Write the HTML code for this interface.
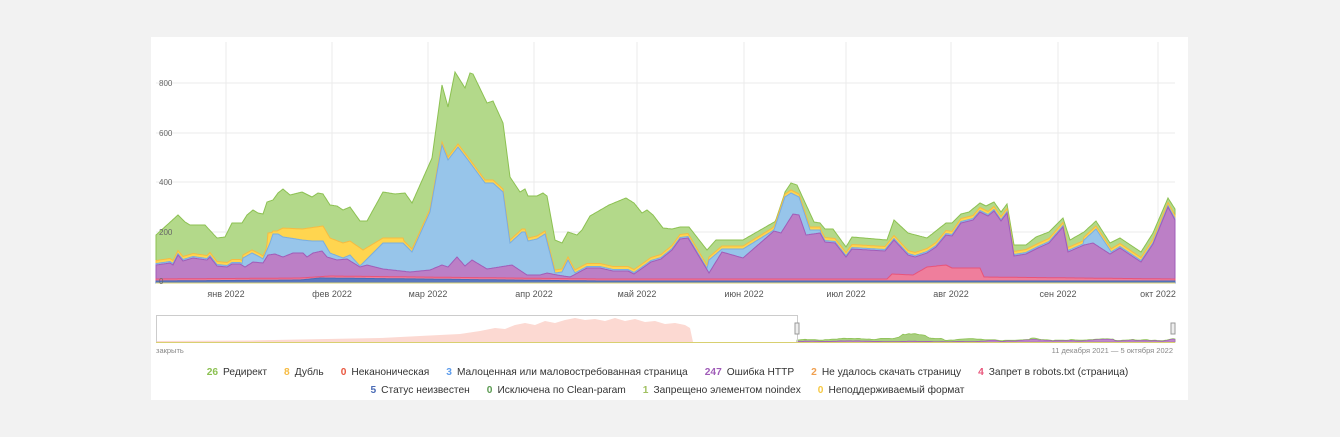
<!DOCTYPE html>
<html><head><meta charset="utf-8"><style>
body{margin:0;background:#f2f2f2;width:1340px;height:437px;overflow:hidden;font-family:"Liberation Sans",sans-serif}
#card{position:absolute;left:151px;top:37px;width:1037px;height:363px;background:#fff}
svg{position:absolute;left:0;top:0}
.leg{position:absolute;left:149px;width:1037px;text-align:center;font-size:10.2px;color:#333;white-space:nowrap}
.leg span{margin:0 8.5px}
.leg b{font-weight:bold;margin-right:5px}
</style></head><body>
<div id="card"></div>
<svg id="s" width="1340" height="437"></svg>
<div class="leg" style="top:367px"><span><b style="color:#8cc152">26</b>Редирект</span><span><b style="color:#f6bb42">8</b>Дубль</span><span><b style="color:#e9573f">0</b>Неканоническая</span><span><b style="color:#5d9cec">3</b>Малоценная или маловостребованная страница</span><span><b style="color:#a05cb8">247</b>Ошибка HTTP</span><span><b style="color:#f0a050">2</b>Не удалось скачать страницу</span><span><b style="color:#e8547a">4</b>Запрет в robots.txt (страница)</span></div>
<div class="leg" style="top:385px"><span><b style="color:#4a6bb5">5</b>Статус неизвестен</span><span><b style="color:#5a9a50">0</b>Исключена по Clean-param</span><span><b style="color:#a0c060">1</b>Запрещено элементом noindex</span><span><b style="color:#f6c842">0</b>Неподдерживаемый формат</span></div>
<script>
const G=[[156,235],[178,215],[185,222],[190,225],[205,225],[217,238],[225,237],[232,223],[242,223],[247,215],[253,210],[258,213],[263,214],[267,202],[273,200],[278,193],[283,189],[290,195],[302,192],[312,197],[318,193],[323,194],[330,205],[337,206],[343,210],[350,207],[360,221],[367,221],[383,192],[395,194],[405,193],[412,203],[432,158],[442,85],[448,107],[455,72],[465,88],[470,73],[473,74],[487,103],[493,101],[503,123],[510,177],[520,192],[525,189],[528,196],[537,196],[543,193],[547,196],[555,240],[562,243],[568,232],[577,235],[582,230],[590,216],[609,205],[626,198],[634,203],[642,213],[647,210],[653,215],[663,228],[672,229],[680,227],[689,227],[707,250],[716,240],[743,240],[776,221],[781,223],[785,192],[791,183],[797,185],[814,222],[820,223],[825,229],[833,229],[846,247],[852,237],[887,240],[894,220],[908,233],[927,238],[946,223],[952,223],[961,214],[969,212],[980,203],[986,206],[994,202],[1001,212],[1007,204],[1014,245],[1026,245],[1036,237],[1049,232],[1063,218],[1070,240],[1084,232],[1096,221],[1110,243],[1120,238],[1141,252],[1153,233],[1168,198],[1175,209]];
const P=[[156,265],[170,263],[173,265],[178,255],[183,261],[193,258],[207,260],[210,257],[217,266],[227,267],[232,264],[240,264],[245,267],[253,262],[263,263],[268,255],[275,254],[283,257],[293,253],[303,253],[307,257],[313,253],[322,251],[327,257],[337,260],[347,259],[360,267],[367,265],[383,269],[410,272],[430,270],[442,265],[448,267],[457,257],[465,266],[472,260],[487,269],[512,265],[527,275],[540,275],[547,273],[557,275],[570,277],[587,268],[600,268],[613,271],[628,271],[634,274],[644,267],[651,262],[661,259],[672,250],[680,239],[688,238],[709,273],[722,252],[743,258],[774,231],[781,233],[793,214],[799,215],[806,235],[820,233],[825,242],[835,243],[846,257],[852,249],[885,251],[894,240],[908,255],[915,257],[927,253],[936,247],[946,235],[952,236],[961,223],[973,220],[980,212],[988,216],[994,211],[1001,221],[1007,213],[1014,256],[1026,254],[1038,248],[1049,243],[1063,227],[1068,252],[1084,245],[1093,243],[1110,254],[1120,248],[1141,262],[1153,244],[1168,207],[1175,220]];
const B=[[156,300],[240,300],[243,258],[252,253],[260,257],[263,259],[270,243],[273,234],[278,234],[283,237],[290,238],[302,240],[312,241],[323,241],[330,253],[343,258],[350,255],[360,266],[383,243],[403,243],[412,252],[430,212],[442,145],[448,160],[458,147],[468,160],[485,183],[493,183],[503,192],[510,243],[522,232],[525,232],[528,241],[537,239],[545,234],[555,273],[562,272],[568,260],[577,277],[580,300],[700,300],[709,260],[722,249],[743,249],[774,230],[785,197],[791,193],[799,197],[810,230],[820,230],[826,300],[1075,300],[1084,240],[1096,229],[1110,250],[1115,300],[1175,300]];
const Y=[[156,300],[262,300],[268,233],[275,232],[283,228],[302,229],[323,226],[330,238],[343,243],[350,241],[363,250],[383,238],[403,238],[410,300],[1175,300]];
const R=[[156,279],[300,278],[330,276],[420,277],[600,279],[887,279],[892,274],[913,275],[927,267],[946,265],[952,268],[980,268],[984,277],[1175,279]];
const D=[[156,281],[300,280],[320,278],[420,279],[600,281],[1175,281]];
function f(L,x){for(let i=0;i<L.length-1;i++){if(x>=L[i][0]&&x<=L[i+1][0]){const t=(x-L[i][0])/((L[i+1][0]-L[i][0])||1);return L[i][1]+t*(L[i+1][1]-L[i][1]);}}return L[L.length-1][1];}
const xs=[];for(let x=156;x<=1175;x+=1)xs.push(x);
const pur=xs.map(x=>f(P,x)),blu=xs.map((x,i)=>Math.min(pur[i]-1.5,f(B,x))),yel=xs.map((x,i)=>Math.min(blu[i]-3,f(Y,x))),grn=xs.map((x,i)=>Math.min(yel[i]-1.5,f(G,x))),red=xs.map(x=>f(R,x)),dbl=xs.map(x=>f(D,x));
let h='';
[83,133,182,232].forEach(y=>h+=`<line x1="156" x2="1175" y1="${y}" y2="${y}" stroke="#ebebeb"/>`);
const mon=[[226,'янв'],[332,'фев'],[428,'мар'],[534,'апр'],[637,'май'],[744,'июн'],[846,'июл'],[951,'авг'],[1058,'сен'],[1158,'окт']];
mon.forEach(m=>h+=`<line x1="${m[0]}" x2="${m[0]}" y1="42" y2="283" stroke="#ebebeb"/><text x="${m[0]}" y="297" font-size="9" fill="#555" text-anchor="middle">${m[1]} 2022</text>`);
function poly(arr,fill,stroke){let d='M156,283 '+arr.map((y,i)=>'L'+xs[i]+','+y.toFixed(1)).join(' ')+' L1175,283Z';return `<path d="${d}" fill="${fill}" stroke="${stroke}" stroke-width="1"/>`;}
h+=poly(grn,'#b3d98a','#8cc152')+poly(yel,'#ffd54f','#f6bb42')+poly(blu,'#97c5ea','#79aee0')+poly(pur,'#bc7fc6','#a05cb8')+poly(red,'#ef7e9c','#e8547a')+poly(dbl,'#5a78c0','#4a6bb5');
h+=`<line x1="156" x2="1175" y1="283" y2="283" stroke="#d8d070"/>`;
[[800,83],[600,133],[400,182],[200,232],[0,281]].forEach(a=>h+=`<text x="159" y="${a[1]+3}" font-size="8" fill="#666">${a[0]}</text>`);
const N=[[156,341],[250,340.5],[300,339.5],[380,338],[420,336],[460,334],[480,331],[495,328],[505,329],[515,325],[525,323],[535,325],[545,321],[555,323],[565,320],[575,318],[585,320],[595,319],[605,321],[615,318],[625,321],[635,319],[645,322],[655,321],[665,324],[675,323],[685,325],[690,328],[693,342]];
let nd='M156,342 '+N.map(p=>'L'+p[0]+','+p[1]).join(' ')+' L797,342Z';
h+=`<path d="${nd}" fill="#fcd9d2"/>`;
let nd2='M797,342 ';for(let x=797;x<=1175;x+=2){let xx=(x-797)/378*1019+156;nd2+='L'+x+','+(342-(283-f(G,xx))*0.04).toFixed(1)+' ';}nd2+='L1175,342Z';
h+=`<path d="${nd2}" fill="#a9cf80" stroke="#8cc152" stroke-width="0.8"/>`;
let nd3='M797,342 ';for(let x=797;x<=1175;x+=2){let xx=(x-797)/378*1019+156;nd3+='L'+x+','+(342-(283-f(P,xx))*0.04).toFixed(1)+' ';}nd3+='L1175,342Z';
h+=`<path d="${nd3}" fill="#c08ac8" stroke="#a05cb8" stroke-width="0.6"/>`;
h+=`<rect x="156.5" y="315.5" width="641" height="27" fill="none" stroke="#ccc"/><line x1="156" x2="1175" y1="342.5" y2="342.5" stroke="#d8d070"/>`;
h+=`<rect x="795" y="323" width="4" height="11" fill="#eee" stroke="#999"/><rect x="1171" y="323" width="4" height="11" fill="#eee" stroke="#999"/>`;
h+=`<text x="156" y="353" font-size="7.5" fill="#888">закрыть</text><text x="1173" y="353" font-size="7.5" fill="#888" text-anchor="end">11 декабря 2021 — 5 октября 2022</text>`;
document.getElementById('s').innerHTML=h;
</script>
</body></html>
